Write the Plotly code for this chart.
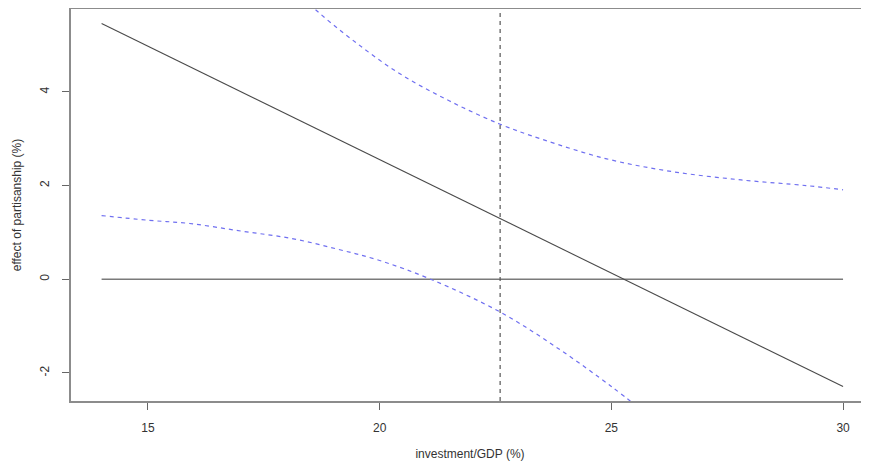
import plotly.graph_objects as go

# Fitted marginal effect line (end points)
line_x = [14, 30]
line_y = [5.46, -2.29]

# Upper 95% band
upper_x = [18.0, 18.6, 19.4, 20.4, 21.5, 22.6, 23.5, 24.9, 26.3, 27.8, 29.2, 30.0]
upper_y = [6.35, 5.77, 5.12, 4.41, 3.81, 3.31, 2.99, 2.57, 2.30, 2.12, 2.00, 1.91]

# Lower 95% band
lower_x = [14.0, 15.0, 15.9, 17.0, 18.1, 19.1, 20.0, 21.1, 22.6, 23.9, 25.0, 25.6]
lower_y = [1.36, 1.26, 1.19, 1.03, 0.87, 0.64, 0.40, 0.00, -0.70, -1.51, -2.29, -2.75]

zero_x = [14, 30]
zero_y = [0, 0]

vline_x = 22.6

x_ticks = [15, 20, 25, 30]
y_ticks = [-2, 0, 2, 4]

band_color = "#6f6ff0"
axis_color = "#8c8c8c"
font_family = "Liberation Sans, Arial, sans-serif"

fig = go.Figure()
fig.add_trace(go.Scatter(x=zero_x, y=zero_y, mode="lines",
                         line=dict(color="#7a7a7a", width=1.3), hoverinfo="skip"))
fig.add_trace(go.Scatter(x=line_x, y=line_y, mode="lines",
                         line=dict(color="#4a4a4a", width=1.1), hoverinfo="skip"))
fig.add_trace(go.Scatter(x=upper_x, y=upper_y, mode="lines",
                         line=dict(color=band_color, width=1.2, dash="4px,4px", shape="spline"),
                         hoverinfo="skip"))
fig.add_trace(go.Scatter(x=lower_x, y=lower_y, mode="lines",
                         line=dict(color=band_color, width=1.2, dash="4px,4px", shape="spline"),
                         hoverinfo="skip"))
fig.add_vline(x=vline_x, line=dict(color="#555555", width=1.2, dash="4px,4px"))

# page body has an 8px margin, so the figure is placed at (8, 8)
fig.update_layout(
    width=861, height=453,
    margin=dict(l=63, r=0, t=1, b=60),
    paper_bgcolor="white", plot_bgcolor="white",
    showlegend=False,
    font=dict(family=font_family, size=12, color="#333333"),
)
fig.update_xaxes(
    range=[13.34, 30.56], tickvals=x_ticks, ticktext=[str(v) for v in x_ticks],
    showgrid=False, zeroline=False,
    showline=True, linecolor=axis_color, linewidth=2, mirror=True,
    ticks="outside", ticklen=7, tickcolor="#666666", tickwidth=1,
    ticklabelstandoff=8,
    title=dict(text="investment/GDP (%)", standoff=17, font=dict(size=12)),
)
fig.update_yaxes(
    range=[-2.6, 5.77], tickvals=y_ticks, ticktext=[str(v) for v in y_ticks],
    tickangle=-90,
    showgrid=False, zeroline=False,
    showline=True, linecolor=axis_color, linewidth=2, mirror=False,
    ticks="outside", ticklen=7, tickcolor="#666666", tickwidth=1,
    ticklabelstandoff=8,
    title=dict(text="effect of partisanship (%)", standoff=14, font=dict(size=12)),
)

fig.write_html("out.html")
